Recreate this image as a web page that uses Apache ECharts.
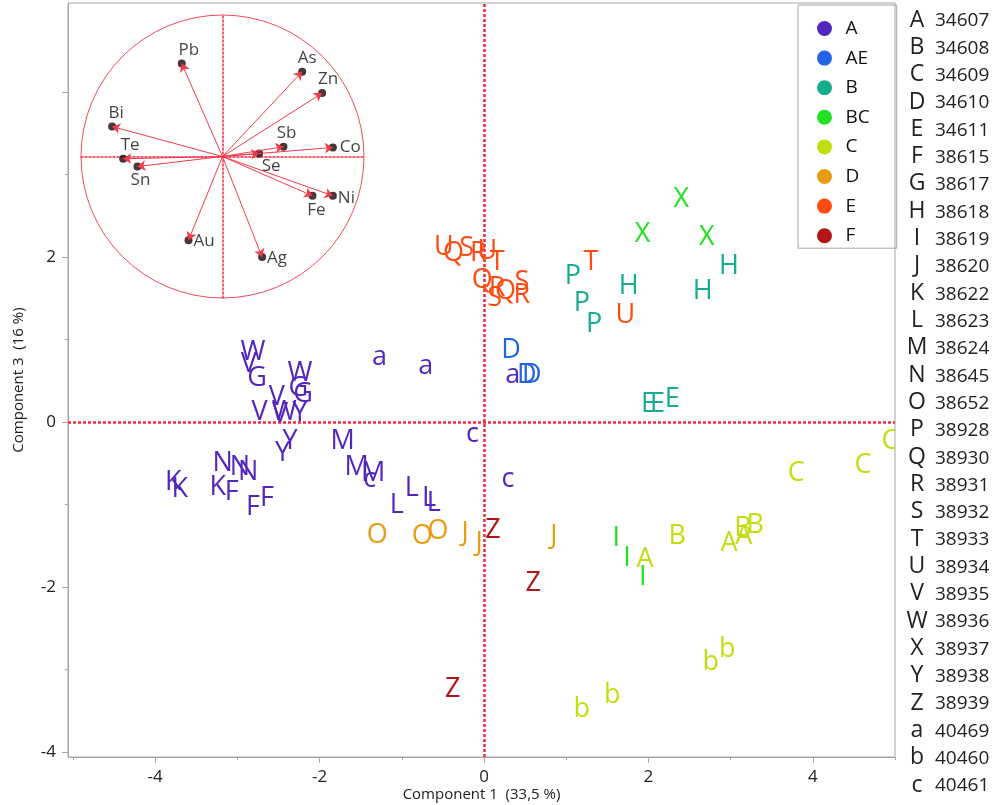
<!DOCTYPE html>
<html>
<head>
<meta charset="utf-8">
<script src="https://cdn.jsdelivr.net/npm/echarts@6/dist/echarts.min.js"></script>
<style>html,body{margin:0;padding:0;background:#fff}#c{width:1002px;height:805px}</style>
</head>
<body>
<div id="c"></div>
<script>
// ---- score data (Component 1, Component 3) per group ----
const groupNames = ['A','AE','B','BC','C','D','E','F'];
const groupColors = ['#5326bd','#2264e3','#15ad8e','#22e022','#c2de12','#e89c12','#fd4b12','#b01818'];

const gA_lbl = ['W','V','G','W','G','G','V','V','V','W','Y','Y','Y','K','K','N','N','N','K','F','F','F','M','M','M','c','L','L','L','L','a','a','a','c','c'];
const gA_x = [-2.81,-2.86,-2.76,-2.24,-2.26,-2.20,-2.52,-2.73,-2.48,-2.43,-2.24,-2.36,-2.45,-3.78,-3.70,-3.18,-2.97,-2.87,-3.24,-3.07,-2.81,-2.64,-1.72,-1.55,-1.35,-1.39,-1.06,-0.88,-0.67,-0.61,-1.27,-0.71,0.35,-0.14,0.29];
const gA_y = [0.84,0.70,0.53,0.59,0.41,0.33,0.30,0.12,0.09,0.12,0.11,-0.24,-0.38,-0.73,-0.82,-0.50,-0.55,-0.61,-0.79,-0.85,-1.04,-0.92,-0.24,-0.55,-0.62,-0.70,-1.01,-0.80,-0.92,-0.98,0.78,0.67,0.56,-0.15,-0.70];

const gAE_lbl = ['D','D','D'];
const gAE_x = [0.33,0.52,0.58];
const gAE_y = [0.87,0.57,0.57];

const gB_lbl = ['P','P','P','H','H','H','E','E','E'];
const gB_x = [1.08,1.19,1.34,1.76,2.66,2.98,2.00,2.11,2.29];
const gB_y = [1.76,1.44,1.18,1.65,1.59,1.89,0.21,0.21,0.27];

const gBC_lbl = ['X','X','X','I','I','I'];
const gBC_x = [2.40,1.93,2.71,1.61,1.74,1.93];
const gBC_y = [2.70,2.27,2.24,-1.41,-1.65,-1.88];

const gC_lbl = ['A','B','A','A','B','B','C','C','C','b','b','b','b'];
const gC_x = [1.96,2.35,2.98,3.16,3.15,3.30,3.80,4.61,4.94,1.19,1.56,2.76,2.96];
const gC_y = [-1.66,-1.39,-1.47,-1.39,-1.29,-1.25,-0.62,-0.52,-0.24,-3.48,-3.31,-2.91,-2.75];

const gD_lbl = ['O','O','O','J','J','J'];
const gD_x = [-1.30,-0.75,-0.56,-0.23,-0.06,0.85];
const gD_y = [-1.37,-1.39,-1.33,-1.35,-1.47,-1.39];

const gE_lbl = ['U','Q','S','R','U','T','Q','R','Q','S','R','S','T','U'];
const gE_x = [-0.49,-0.37,-0.21,-0.07,0.04,0.16,-0.02,0.16,0.26,0.46,0.46,0.13,1.30,1.72];
const gE_y = [2.12,2.04,2.11,2.05,2.07,1.94,1.72,1.62,1.58,1.69,1.54,1.50,1.93,1.29];

const gF_lbl = ['Z','Z','Z'];
const gF_x = [0.11,0.60,-0.38];
const gF_y = [-1.31,-1.95,-3.24];

// ---- loadings (inset circle) ----
const loadNames = ['Pb','As','Zn','Bi','Te','Sn','Sb','Se','Co','Ni','Fe','Au','Ag'];
const loadX = [-0.288,0.563,0.704,-0.780,-0.702,-0.601,0.431,0.259,0.780,0.780,0.636,-0.240,0.280];
const loadY = [0.657,0.599,0.448,0.212,-0.016,-0.071,0.069,0.021,0.064,-0.278,-0.278,-0.591,-0.711];

// ---- axis ticks ----
const xMajor = [-4,-2,0,2,4];
const xMinor = [-5,-3,-1,1,3,5];
const yMajor = [-4,-2,0,2,4];
const yMinor = [-3,-1,1,3];
const yLabels = [-4,-2,0,2];

// ---- sample id key ----
const idLetters = ['A','B','C','D','E','F','G','H','I','J','K','L','M','N','O','P','Q','R','S','T','U','V','W','X','Y','Z','a','b','c'];
const idNumbers = ['34607','34608','34609','34610','34611','38615','38617','38618','38619','38620','38622','38623','38624','38645','38652','38928','38930','38931','38932','38933','38934','38935','38936','38937','38938','38939','40469','40460','40461'];

const FONT = '"Open Sans", "Noto Sans", sans-serif';
const groups = [
  [gA_lbl,gA_x,gA_y],[gAE_lbl,gAE_x,gAE_y],[gB_lbl,gB_x,gB_y],[gBC_lbl,gBC_x,gBC_y],
  [gC_lbl,gC_x,gC_y],[gD_lbl,gD_x,gD_y],[gE_lbl,gE_x,gE_y],[gF_lbl,gF_x,gF_y]
];

const chart = echarts.init(document.getElementById('c'), null, {renderer:'canvas'});
const GRAY = '#a6a6a6';
const RED = '#f0283c';

const series = [];
// zero lines of main plot
series.push({
  type:'scatter', name:'_zero', xAxisIndex:0, yAxisIndex:0, data:[], silent:true, z:1,
  markLine:{silent:true, symbol:'none', label:{show:false},
    lineStyle:{color:RED, type:[3,2], width:2.5},
    data:[{xAxis:0},{yAxis:0}]}
});
groups.forEach((g, gi) => {
  const [lbl, xs, ys] = g;
  series.push({
    type:'custom', name:groupNames[gi], xAxisIndex:0, yAxisIndex:0, clip:true, z:5,
    itemStyle:{color:groupColors[gi]},
    data: xs.map((x,i)=>[x, ys[i]]),
    renderItem:(params, api) => {
      const p = api.coord([api.value(0), api.value(1)]);
      return {type:'text', x:p[0], y:p[1], style:{
        text: lbl[params.dataIndex], fill: groupColors[gi],
        font: '27px ' + FONT, align:'center', verticalAlign:'middle'}};
    }
  });
});
// inset circle
series.push({
  type:'custom', name:'_circle', xAxisIndex:2, yAxisIndex:2, clip:false, silent:true,
  data:[[0,0]],
  renderItem:(params, api) => {
    const c = api.coord([0,0]);
    const r = api.size([1,1])[0];
    return {type:'circle', shape:{cx:c[0], cy:c[1], r:r}, style:{fill:'none', stroke:'#f04a5a', lineWidth:1}};
  }
});
// loading points
const labelPos = {
  Pb:{position:'top', offset:[7,2]}, As:{position:'top', offset:[5,2]}, Zn:{position:'top', offset:[6,2]},
  Bi:{position:'top', offset:[4,2]}, Te:{position:'top', offset:[7,2]}, Sn:{position:'bottom', offset:[3,-2]},
  Sb:{position:'top', offset:[3,2]}, Se:{position:'bottom', offset:[12,-3]}, Co:{position:'right', offset:[0,0]},
  Ni:{position:'right', offset:[-2,2]}, Fe:{position:'bottom', offset:[4,-1]}, Au:{position:'right', offset:[-2,1]},
  Ag:{position:'right', offset:[-2,1]}
};
series.push({
  type:'scatter', name:'_loadpts', xAxisIndex:2, yAxisIndex:2, symbolSize:8, z:3, silent:true,
  itemStyle:{color:'#1a0505'},
  data: loadNames.map((n,i)=>({value:[loadX[i], loadY[i]], label:Object.assign({show:true, formatter:n, distance:3}, labelPos[n])})),
  label:{show:true, fontSize:17, color:'#111', fontFamily:FONT}
});
series.push({
  type:'lines', name:'_arrows', coordinateSystem:'cartesian2d', xAxisIndex:2, yAxisIndex:2, z:4, silent:true,
  symbol:['none','arrow'], symbolSize:8,
  lineStyle:{color:'#f03a4a', width:1, opacity:1},
  data: loadNames.map((n,i)=>({coords:[[0,0],[loadX[i], loadY[i]]]}))
});

const tickStyle = {color:GRAY, width:1};
const option = {
  animation:false,
  textStyle:{fontFamily:FONT},
  grid:[
    {left:68, top:3, width:827, height:754, show:true, borderColor:GRAY, borderWidth:1, backgroundColor:'transparent', outerBoundsMode:'none', containLabel:false},
    {left:81, top:15, width:283, height:283, outerBoundsMode:'none', containLabel:false}
  ],
  xAxis:[
    {gridIndex:0, type:'value', min:-5.061, max:5.0, position:'bottom',
     axisLine:{show:true, onZero:false, lineStyle:{color:GRAY}},
     axisTick:{show:true, customValues:xMajor, length:6, lineStyle:tickStyle},
     axisLabel:{customValues:xMajor, fontSize:17, color:'#222', margin:12, fontFamily:FONT},
     splitLine:{show:false},
     name:'Component 1  (33,5 %)', nameLocation:'middle', nameGap:30, nameMoveOverlap:false,
     nameTextStyle:{fontSize:15, color:'#222', fontFamily:FONT}},
    {gridIndex:0, type:'value', min:-5.061, max:5.0, position:'bottom',
     axisLine:{show:false, onZero:false},
     axisTick:{show:true, customValues:xMinor, length:3, lineStyle:tickStyle},
     axisLabel:{show:false}, splitLine:{show:false}},
    {gridIndex:1, type:'value', min:-1, max:1,
     axisLine:{show:true, onZero:true, lineStyle:{color:'#f0283c', type:[2,2], width:1.5}},
     axisTick:{show:false}, axisLabel:{show:false}, splitLine:{show:false}}
  ],
  yAxis:[
    {gridIndex:0, type:'value', min:-4.061, max:5.079, position:'left',
     axisLine:{show:true, onZero:false, lineStyle:{color:GRAY}},
     axisTick:{show:true, customValues:yMajor, length:6, lineStyle:tickStyle},
     axisLabel:{customValues:yLabels, fontSize:17, color:'#222', margin:12, fontFamily:FONT},
     splitLine:{show:false},
     name:'Component 3  (16 %)', nameLocation:'middle', nameGap:42, nameRotate:90, nameMoveOverlap:false,
     nameTextStyle:{fontSize:15, color:'#222', fontFamily:FONT}},
    {gridIndex:0, type:'value', min:-4.061, max:5.079, position:'left',
     axisLine:{show:false, onZero:false},
     axisTick:{show:true, customValues:yMinor, length:3, lineStyle:tickStyle},
     axisLabel:{show:false}, splitLine:{show:false}},
    {gridIndex:1, type:'value', min:-1, max:1,
     axisLine:{show:true, onZero:true, lineStyle:{color:'#f0283c', type:[2,2], width:1.5}},
     axisTick:{show:false}, axisLabel:{show:false}, splitLine:{show:false}}
  ],
  legend:{
    data:groupNames, orient:'vertical', left:798, top:5,
    icon:'circle', itemWidth:16, itemHeight:15, itemGap:10.6,
    borderColor:GRAY, borderWidth:1, padding:[14,27,3,19],
    textStyle:{fontSize:19, color:'#111', fontFamily:FONT, padding:[0,0,0,8]},
    selectedMode:false
  },
  graphic: idLetters.flatMap((l,i)=>[
    {type:'text', x:917, y:20 + i*27.32, style:{text:l, font:'23px ' + FONT, fill:'#222', align:'center', verticalAlign:'middle'}},
    {type:'text', x:935, y:21 + i*27.32, style:{text:idNumbers[i], font:'19px ' + FONT, fill:'#222', align:'left', verticalAlign:'middle'}}
  ]),
  series:series
};
chart.setOption(option);
</script>
</body>
</html>
